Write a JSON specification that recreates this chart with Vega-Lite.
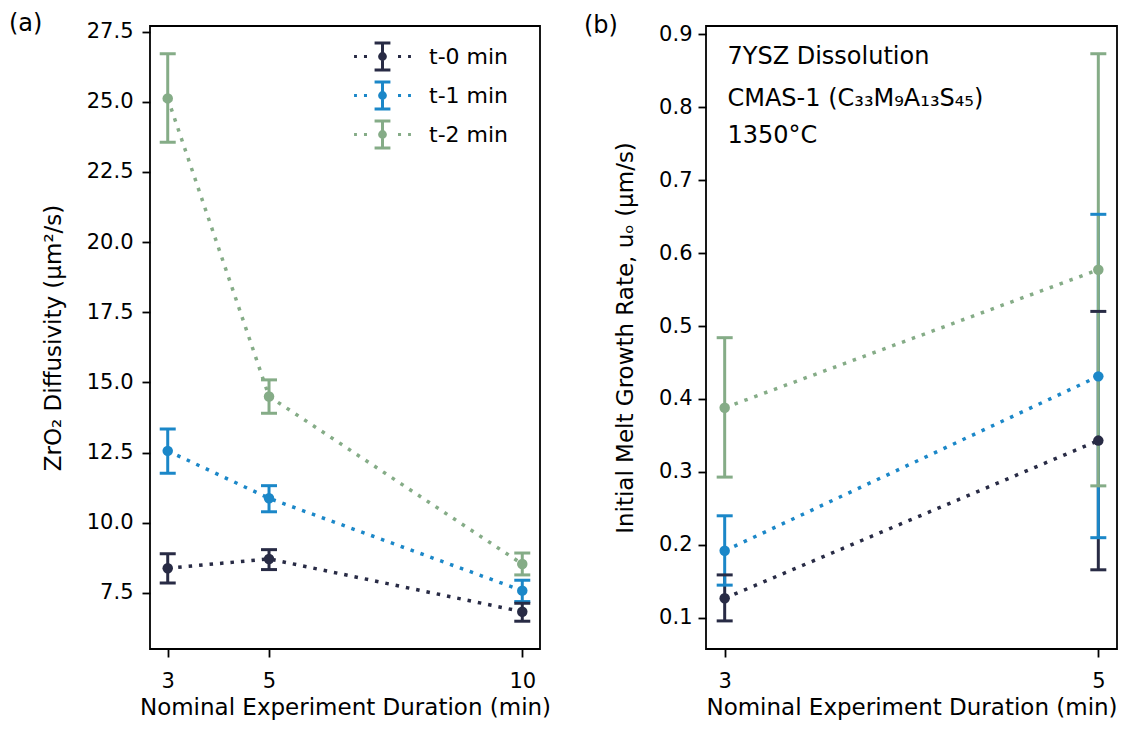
{
  "$schema": "https://vega.github.io/schema/vega-lite/v6.json",
  "background": "white",
  "padding": {"left": 8, "top": 10, "right": 5, "bottom": 5},
  "config": {
    "font": "DejaVu Sans",
    "view": {"stroke": "black", "strokeWidth": 1.8},
    "axis": {"grid": false, "domain": false, "tickColor": "black", "tickWidth": 1.8, "tickSize": 8, "labelFontSize": 21, "labelColor": "black", "titleFontSize": 23, "titleFontWeight": "normal", "titleColor": "black", "labelPadding": 9, "labelFont": "DejaVu Sans", "titleFont": "DejaVu Sans"},
    "axisY": {"titlePadding": 21},
    "axisX": {"titlePadding": 5, "labelPadding": 13},
    "title": {"fontSize": 24, "fontWeight": "normal", "font": "DejaVu Sans", "anchor": "start", "frame": "group", "color": "black", "baseline": "alphabetic", "offset": -15}
  },
  "datasets": {
    "diff": [
      {"series": "t-0 min", "x": 3, "y": 8.38, "lo": 7.85, "hi": 8.89},
      {"series": "t-0 min", "x": 5, "y": 8.71, "lo": 8.33, "hi": 9.04},
      {"series": "t-0 min", "x": 10, "y": 6.83, "lo": 6.49, "hi": 7.13},
      {"series": "t-1 min", "x": 3, "y": 12.56, "lo": 11.76, "hi": 13.34},
      {"series": "t-1 min", "x": 5, "y": 10.87, "lo": 10.39, "hi": 11.32},
      {"series": "t-1 min", "x": 10, "y": 7.58, "lo": 7.19, "hi": 7.95},
      {"series": "t-2 min", "x": 3, "y": 25.12, "lo": 23.56, "hi": 26.71},
      {"series": "t-2 min", "x": 5, "y": 14.5, "lo": 13.9, "hi": 15.09},
      {"series": "t-2 min", "x": 10, "y": 8.53, "lo": 8.14, "hi": 8.92}
    ],
    "rate": [
      {"series": "t-0 min", "x": 3, "y": 0.127, "lo": 0.096, "hi": 0.159},
      {"series": "t-0 min", "x": 5, "y": 0.343, "lo": 0.166, "hi": 0.52},
      {"series": "t-1 min", "x": 3, "y": 0.192, "lo": 0.145, "hi": 0.24},
      {"series": "t-1 min", "x": 5, "y": 0.431, "lo": 0.21, "hi": 0.653},
      {"series": "t-2 min", "x": 3, "y": 0.388, "lo": 0.293, "hi": 0.484},
      {"series": "t-2 min", "x": 5, "y": 0.577, "lo": 0.281, "hi": 0.873}
    ],
    "notes": [
      {"x": 3.015, "y": 0.868, "label": "7YSZ Dissolution"},
      {"x": 3.015, "y": 0.811, "label": "CMAS-1 (C₃₃M₉A₁₃S₄₅)"},
      {"x": 3.015, "y": 0.76, "label": "1350°C"}
    ]
  },
  "spacing": 31,
  "resolve": {"scale": {"color": "independent"}, "legend": {"color": "independent"}},
  "hconcat": [
    {
      "width": 390,
      "height": 623,
      "title": {"text": "(a)", "dx": -141},
      "data": {"name": "diff"},
      "encoding": {
        "x": {"field": "x", "type": "quantitative", "title": "Nominal Experiment Duration (min)", "scale": {"domain": [2.65, 10.35], "nice": false, "zero": false}, "axis": {"values": [3, 5, 10], "format": "d"}},
        "color": {
          "field": "series", "type": "nominal",
          "scale": {"domain": ["t-0 min", "t-1 min", "t-2 min"], "range": ["#282b45", "#1b87c8", "#85ac87"]},
          "legend": {
            "title": null, "orient": "none", "legendX": 213, "legendY": 11, "padding": 0, "rowPadding": 0,
            "symbolType": "M-1.58,0H-1.42M-1.03,0H-0.86M0.86,0H1.03M1.42,0H1.58M0,-0.75V0.75M-0.44,-0.75H0.44M-0.44,0.75H0.44M0.16,0A0.16,0.16 0 1,1 -0.16,0A0.16,0.16 0 1,1 0.16,0Z",
            "symbolSize": 1296, "symbolStrokeWidth": 3,
            "labelFontSize": 22, "labelFont": "DejaVu Sans", "labelColor": "black", "labelOffset": 27, "labelBaseline": "middle",
            "encode": {"symbols": {"update": {
              "fill": [{"test": "datum.value === 't-0 min'", "value": "#282b45"}, {"test": "datum.value === 't-1 min'", "value": "#1b87c8"}, {"value": "#85ac87"}],
              "stroke": [{"test": "datum.value === 't-0 min'", "value": "#282b45"}, {"test": "datum.value === 't-1 min'", "value": "#1b87c8"}, {"value": "#85ac87"}],
              "strokeDash": {"value": []},
              "opacity": {"value": 1},
              "fillOpacity": {"value": 1},
              "strokeOpacity": {"value": 1}
            }}}
          }
        }
      },
      "layer": [
        {"mark": {"type": "rule", "strokeWidth": 3}, "encoding": {
          "y": {"field": "lo", "type": "quantitative", "title": "ZrO₂ Diffusivity (μm²/s)", "scale": {"domain": [5.5, 27.7], "nice": false, "zero": false}, "axis": {"values": [7.5, 10, 12.5, 15, 17.5, 20, 22.5, 25, 27.5], "format": ".1f"}},
          "y2": {"field": "hi"}}},
        {"mark": {"type": "tick", "orient": "horizontal", "thickness": 3, "size": 16, "opacity": 1}, "encoding": {
          "y": {"field": "lo", "type": "quantitative", "title": "ZrO₂ Diffusivity (μm²/s)"}}},
        {"mark": {"type": "tick", "orient": "horizontal", "thickness": 3, "size": 16, "opacity": 1}, "encoding": {
          "y": {"field": "hi", "type": "quantitative", "title": "ZrO₂ Diffusivity (μm²/s)"}}},
        {"mark": {"type": "line", "strokeDash": [3.5, 7], "strokeWidth": 3.5}, "encoding": {
          "y": {"field": "y", "type": "quantitative", "title": "ZrO₂ Diffusivity (μm²/s)"},
          "order": {"field": "x", "type": "quantitative"}}},
        {"mark": {"type": "point", "filled": true, "shape": "circle", "size": 110, "opacity": 1}, "encoding": {
          "y": {"field": "y", "type": "quantitative", "title": "ZrO₂ Diffusivity (μm²/s)"}}}
      ]
    },
    {
      "width": 411,
      "height": 623,
      "title": {"text": "(b)", "dx": -122},
      "encoding": {
        "x": {"field": "x", "type": "quantitative", "title": "Nominal Experiment Duration (min)", "scale": {"domain": [2.9, 5.1], "nice": false, "zero": false}, "axis": {"values": [3, 5], "format": "d"}}
      },
      "layer": [
        {"data": {"name": "rate"}, "mark": {"type": "rule", "strokeWidth": 3}, "encoding": {
          "y": {"field": "lo", "type": "quantitative", "title": "Initial Melt Growth Rate, uₒ (μm/s)", "scale": {"domain": [0.0575, 0.911], "nice": false, "zero": false}, "axis": {"values": [0.1, 0.2, 0.3, 0.4, 0.5, 0.6, 0.7, 0.8, 0.9], "format": ".1f", "labelPadding": 6}},
          "y2": {"field": "hi"},
          "color": {"field": "series", "type": "nominal", "scale": {"domain": ["t-0 min", "t-1 min", "t-2 min"], "range": ["#282b45", "#1b87c8", "#85ac87"]}, "legend": null}}},
        {"data": {"name": "rate"}, "mark": {"type": "tick", "orient": "horizontal", "thickness": 3, "size": 16, "opacity": 1}, "encoding": {
          "y": {"field": "lo", "type": "quantitative", "title": "Initial Melt Growth Rate, uₒ (μm/s)"},
          "color": {"field": "series", "type": "nominal", "legend": null}}},
        {"data": {"name": "rate"}, "mark": {"type": "tick", "orient": "horizontal", "thickness": 3, "size": 16, "opacity": 1}, "encoding": {
          "y": {"field": "hi", "type": "quantitative", "title": "Initial Melt Growth Rate, uₒ (μm/s)"},
          "color": {"field": "series", "type": "nominal", "legend": null}}},
        {"data": {"name": "rate"}, "mark": {"type": "line", "strokeDash": [3.5, 7], "strokeWidth": 3.5}, "encoding": {
          "y": {"field": "y", "type": "quantitative", "title": "Initial Melt Growth Rate, uₒ (μm/s)"},
          "color": {"field": "series", "type": "nominal", "legend": null},
          "order": {"field": "x", "type": "quantitative"}}},
        {"data": {"name": "rate"}, "mark": {"type": "point", "filled": true, "shape": "circle", "size": 110, "opacity": 1}, "encoding": {
          "y": {"field": "y", "type": "quantitative", "title": "Initial Melt Growth Rate, uₒ (μm/s)"},
          "color": {"field": "series", "type": "nominal", "legend": null}}},
        {"data": {"name": "notes"}, "mark": {"type": "text", "align": "left", "baseline": "middle", "fontSize": 24, "font": "DejaVu Sans", "color": "black"}, "encoding": {
          "y": {"field": "y", "type": "quantitative", "title": "Initial Melt Growth Rate, uₒ (μm/s)"},
          "text": {"field": "label", "type": "nominal"}}}
      ]
    }
  ]
}
